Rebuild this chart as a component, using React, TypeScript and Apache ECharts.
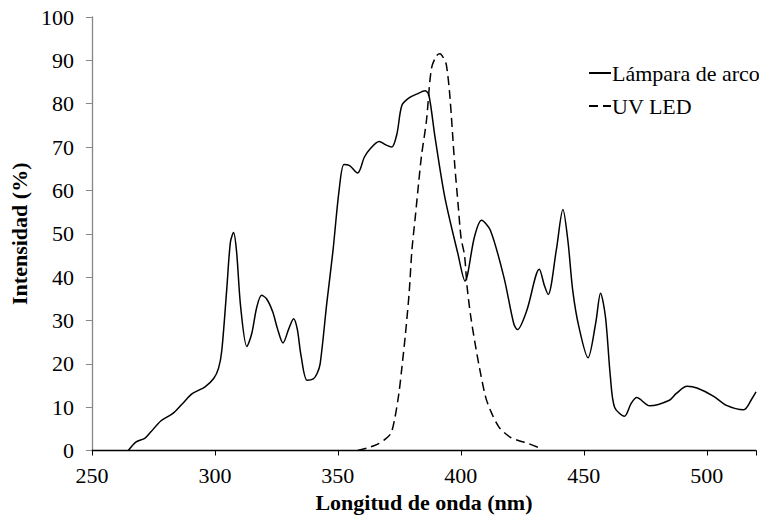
import React, { useEffect, useRef } from "react";
import * as echarts from "echarts";

// Lámpara de arco: [wavelength nm, intensity %]
const arcWavelength = [
  264.8, 268, 271.5, 274, 278, 282.8, 286.8, 290.8, 296, 299.5, 301.5, 302.8, 304.8, 306.3, 307.6,
  308.8, 310.5, 313, 315, 317, 319, 321, 323.5, 325.5, 327.7, 330, 332, 333.5, 335, 337.5, 340,
  341.5, 342.8, 345.5, 348, 350.5, 352.5, 354.8, 358, 360.8, 363, 366.8, 369.5, 371.9, 374, 376,
  378.8, 382, 385.5, 387, 389.5, 393.5, 398.8, 401.7, 405.5, 408.4, 412, 417.5, 421.5, 423,
  426.8, 431.9, 434, 435.5, 438.8, 441.5, 443.5, 445.5, 448, 451.7, 454.8, 456.8, 458.8, 460.8,
  462.5, 466.5, 469.2, 471.5, 476.8, 484.8, 487.5, 492, 496, 502.8, 508, 515, 518.4, 520,
];
const arcIntensity = [
  0, 2, 2.8, 4.3, 6.8, 8.5, 10.8, 13.1, 14.7, 16.6, 19, 23, 37, 48, 50.3,
  46, 33, 24, 27, 33, 35.8, 35, 32, 28, 24.8, 28, 30.4, 28, 22, 16.2, 16.5,
  17.7, 20, 34, 46, 60, 66, 65.7, 64, 67.7, 69.5, 71.3, 70.5, 70, 73, 79.6,
  81.3, 82.2, 83, 82, 72.3, 58.4, 45.4, 39.1, 49.2, 53.1, 50.8, 40, 29.3, 27.9,
  32.3, 41.8, 38, 36, 46.2, 55.6, 48.5, 36.9, 28.5, 21.4, 29.3, 36.3, 30.8, 17,
  10, 7.9, 10.8, 12.2, 10.3, 11.6, 13.1, 14.8, 14.4, 12.5, 10.4, 9.4, 12, 13.5,
];

// UV LED
const ledWavelength = [
  358, 362, 366, 369, 371.5, 373, 374.8, 376, 377.5, 379, 380.1, 381.5, 382.8, 384, 386, 388,
  390, 391.5, 393, 394.1, 395.5, 397.5, 399, 400.1, 401.5, 402.5, 404, 406, 407.5, 410, 412,
  415.5, 420, 424, 427, 432,
];
const ledIntensity = [
  0, 0.6, 1.4, 2.5, 3.9, 7, 13.1, 19, 27, 36.5, 46.2, 54, 61.5, 68, 76, 88,
  91, 91.5, 90.5, 89, 82, 66, 56, 49, 45, 38, 31, 24, 19.3, 12.5, 9.3,
  5.4, 3.1, 2.2, 1.7, 0.6,
];

const seriesNames = ["Lámpara de arco", "UV LED"];
const xTitle = "Longitud de onda (nm)";
const yTitle = "Intensidad (%)";

const FONT = "'Liberation Serif', 'Times New Roman', serif";

export default function App() {
  const ref = useRef<HTMLDivElement>(null);
  useEffect(() => {
    if (!ref.current) return;
    const chart = echarts.init(ref.current, null, { renderer: "svg" });
    const arcData = arcWavelength.map((x, i) => [x, arcIntensity[i]]);
    const ledData = ledWavelength.map((x, i) => [x, ledIntensity[i]]);
    chart.setOption({
      animation: false,
      backgroundColor: "#ffffff",
      textStyle: { fontFamily: FONT },
      grid: { left: 89, right: -4, top: 17, bottom: 70.5, containLabel: false },
      legend: {
        orient: "vertical",
        left: 583,
        top: 57,
        itemWidth: 22,
        itemHeight: 14,
        itemGap: 11,
        itemStyle: { opacity: 0 },
        textStyle: { fontFamily: FONT, fontSize: 22, color: "#000", padding: [0, 0, 0, -4] },
        data: seriesNames,
      },
      xAxis: {
        type: "value",
        min: 250,
        max: 520,
        interval: 50,
        name: xTitle,
        nameLocation: "middle",
        nameGap: 40,
        nameTextStyle: { fontFamily: FONT, fontSize: 22, fontWeight: "bold", color: "#000" },
        axisLine: { show: true, onZero: false, lineStyle: { color: "#000", width: 1.3 } },
        axisTick: { show: true, inside: false, length: 5, lineStyle: { color: "#000" } },
        axisLabel: {
          fontFamily: FONT,
          fontSize: 22,
          color: "#000",
          margin: 14,
          formatter: (v: number) => (v % 50 === 0 ? String(v) : ""),
        },
        splitLine: { show: false },
      },
      yAxis: {
        type: "value",
        min: 0,
        max: 100,
        interval: 10,
        name: yTitle,
        nameLocation: "middle",
        nameRotate: 90,
        nameGap: 56,
        nameTextStyle: { fontFamily: FONT, fontSize: 22, fontWeight: "bold", color: "#000" },
        axisLine: { show: true, lineStyle: { color: "#868686", width: 1.3 } },
        axisTick: { show: true, inside: false, length: 6, lineStyle: { color: "#868686" } },
        axisLabel: { fontFamily: FONT, fontSize: 22, color: "#000", margin: 18 },
        splitLine: { show: false },
      },
      series: [
        {
          name: seriesNames[0],
          type: "line",
          data: arcData,
          smooth: 0.3,
          symbol: "none",
          lineStyle: { color: "#000", width: 1.5, type: "solid" },
          itemStyle: { color: "#000" },
          z: 3,
        },
        {
          name: seriesNames[1],
          type: "line",
          data: ledData,
          smooth: 0.3,
          symbol: "none",
          lineStyle: { color: "#000", width: 1.5, type: [9, 5] },
          itemStyle: { color: "#000" },
          z: 2,
        },
      ],
    });
    return () => chart.dispose();
  }, []);
  return (
    <div
      ref={ref}
      style={{ position: "fixed", left: 0, top: 0, width: 759, height: 521, background: "#fff" }}
    />
  );
}
